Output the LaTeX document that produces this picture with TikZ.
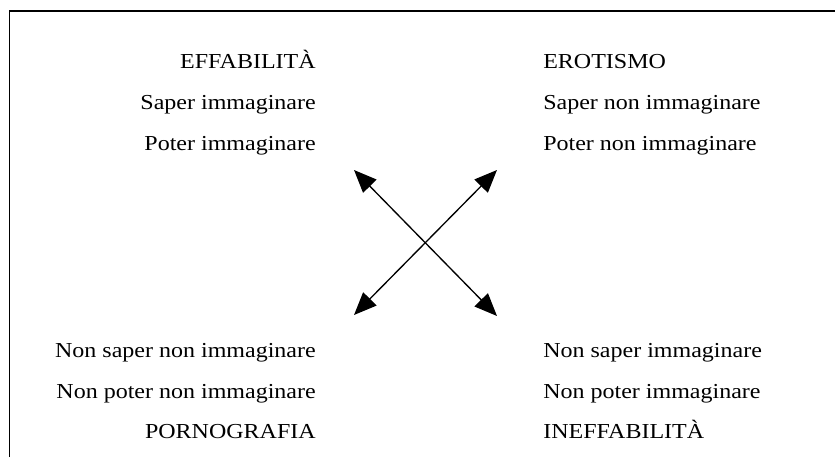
\documentclass[tikz,border=0pt]{standalone}
\usepackage{fontspec}
\setmainfont{Liberation Serif}
\usetikzlibrary{arrows.meta}

\tikzset{
  label/.style={inner sep=0pt, xscale=1.125, font=\fontsize{16pt}{18pt}\selectfont},
  cross/.style={line width=1pt, {Triangle[length=17pt,width=14pt]}-{Triangle[length=17pt,width=14pt]}}
}

\begin{document}
\begin{tikzpicture}[x=0.75pt,y=0.75pt,yscale=-1,xscale=1]

\useasboundingbox (0,0) rectangle (835,457);

%Straight Lines [frame]
\draw [line width=0.9pt]   (9.5,457) -- (9.5,11) -- (835,11) ;

%Straight Lines [arrows]
\coordinate (ul) at (354,170);
\coordinate (ur) at (497,170);
\coordinate (ll) at (354,315);
\coordinate (lr) at (497,316);
\draw [cross]   (ul) -- (lr) ;
\draw [cross]   (ll) -- (ur) ;

% Text Node
\node [label, anchor=base east] (effab) at (316,68) {EFFABILITÀ};
% Text Node
\node [label, anchor=base east] (saper) at (316,109) {Saper immaginare};
% Text Node
\node [label, anchor=base east] (poter) at (316,150) {Poter immaginare};
% Text Node
\node [label, anchor=base west] (erot) at (543,68) {EROTISMO};
% Text Node
\node [label, anchor=base west] (sapernon) at (543,109) {Saper non immaginare};
% Text Node
\node [label, anchor=base west] (poternon) at (543,150) {Poter non immaginare};
% Text Node
\node [label, anchor=base east] (nsapernon) at (316,357) {Non saper non immaginare};
% Text Node
\node [label, anchor=base east] (npoternon) at (316,398) {Non poter non immaginare};
% Text Node
\node [label, anchor=base east] (porno) at (316,438) {PORNOGRAFIA};
% Text Node
\node [label, anchor=base west] (nsaper) at (543,357) {Non saper immaginare};
% Text Node
\node [label, anchor=base west] (npoter) at (543,398) {Non poter immaginare};
% Text Node
\node [label, anchor=base west] (ineffab) at (543,438) {INEFFABILITÀ};

\end{tikzpicture}
\end{document}
